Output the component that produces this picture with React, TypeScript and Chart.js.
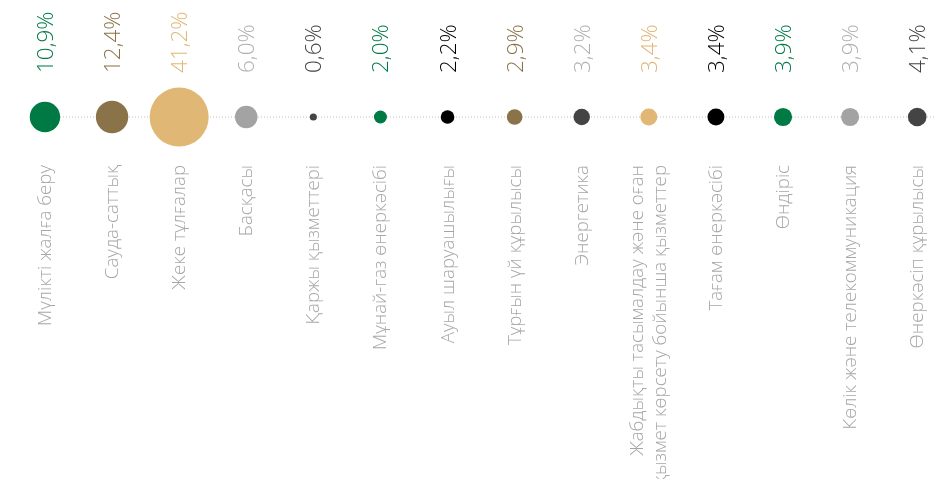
import React, { useEffect, useRef } from "react";
import { Chart, registerables } from "chart.js";

Chart.register(...registerables);

const categories: string[][] = [
  ["Мүлікті жалға беру"],
  ["Сауда-саттық"],
  ["Жеке тұлғалар"],
  ["Басқасы"],
  ["Қаржы қызметтері"],
  ["Мұнай-газ өнеркәсібі"],
  ["Ауыл шаруашылығы"],
  ["Тұрғын үй құрылысы"],
  ["Энергетика"],
  ["Жабдықты тасымалдау және оған", "қызмет көрсету бойынша қызметтер"],
  ["Тағам өнеркәсібі"],
  ["Өндіріс"],
  ["Көлік және телекоммуникация"],
  ["Өнеркәсіп құрылысы"],
];

const values: number[] = [10.9, 12.4, 41.2, 6.0, 0.6, 2.0, 2.2, 2.9, 3.2, 3.4, 3.4, 3.9, 3.9, 4.1];

const valueLabels: string[] = ["10,9%", "12,4%", "41,2%", "6,0%", "0,6%", "2,0%", "2,2%", "2,9%", "3,2%", "3,4%", "3,4%", "3,9%", "3,9%", "4,1%"];

const GREEN = "#007A45";
const BROWN = "#8B7349";
const BEIGE = "#E0B775";
const GRAY = "#A3A3A3";
const DARK = "#444444";
const BLACK = "#000000";
const LIGHT = "#B0B0B0";

const bubbleColors: string[] = [GREEN, BROWN, BEIGE, GRAY, DARK, GREEN, BLACK, BROWN, DARK, BEIGE, BLACK, GREEN, GRAY, DARK];
const valueColors: string[] = [GREEN, BROWN, BEIGE, LIGHT, DARK, GREEN, BLACK, BROWN, LIGHT, BEIGE, BLACK, GREEN, LIGHT, DARK];

const X_MIN = -0.67;
const X_MAX = 13.28;
const FONT = "'Open Sans', 'Noto Sans', sans-serif";

const labelPlugin = {
  id: "labelPlugin",
  afterDraw(chart: any) {
    const ctx = chart.ctx;
    const xs = chart.scales.x;
    ctx.save();
    for (let i = 0; i < categories.length; i++) {
      const cx = xs.getPixelForValue(i);
      // value label
      ctx.save();
      ctx.translate(cx + 8, 73);
      ctx.rotate(-Math.PI / 2);
      ctx.font = `300 22.5px ${FONT}`;
      ctx.fillStyle = valueColors[i];
      ctx.textAlign = "left";
      ctx.textBaseline = "alphabetic";
      ctx.fillText(valueLabels[i], 0, 0);
      ctx.restore();
      // category label
      const lines = categories[i];
      const lh = 23;
      for (let j = 0; j < lines.length; j++) {
        const off = (j - (lines.length - 1) / 2) * lh;
        ctx.save();
        ctx.translate(cx + 6 + off, 165);
        ctx.rotate(-Math.PI / 2);
        ctx.font = `300 18.7px ${FONT}`;
        ctx.fillStyle = "#A6A6A6";
        ctx.textAlign = "right";
        ctx.textBaseline = "alphabetic";
        ctx.fillText(lines[j], 0, 0);
        ctx.restore();
      }
    }
    ctx.restore();
  },
};

export default function App() {
  const ref = useRef<HTMLCanvasElement>(null);
  useEffect(() => {
    if (!ref.current) return;
    const chart = new Chart(ref.current, {
      type: "bubble",
      data: {
        datasets: [
          {
            type: "bubble",
            data: values.map((v, i) => ({ x: i, y: 0, r: 4.6 * Math.sqrt(v) })),
            backgroundColor: bubbleColors,
            borderWidth: 0,
            hoverBorderWidth: 0,
            order: 1,
            clip: false,
          } as any,
          {
            type: "line",
            data: [
              { x: 0, y: 0 },
              { x: X_MAX, y: 0 },
            ],
            borderColor: "#BDBDBD",
            borderWidth: 1,
            borderDash: [1, 2],
            pointRadius: 0,
            order: 2,
          } as any,
        ],
      },
      options: {
        animation: false,
        responsive: false,
        maintainAspectRatio: false,
        devicePixelRatio: 1,
        layout: { autoPadding: false, padding: { left: 0, right: 0, top: 0, bottom: 245 } },
        plugins: { legend: { display: false }, tooltip: { enabled: false } },
        events: [],
        scales: {
          x: { type: "linear", min: X_MIN, max: X_MAX, display: false },
          y: { type: "linear", min: -1, max: 1, display: false },
        },
      },
      plugins: [labelPlugin],
    });
    return () => chart.destroy();
  }, []);
  return (
    <div style={{ position: "absolute", left: 0, top: 0, width: 936, height: 479, background: "#fff" }}>
      <canvas ref={ref} width={936} height={479} style={{ width: 936, height: 479 }} />
    </div>
  );
}
